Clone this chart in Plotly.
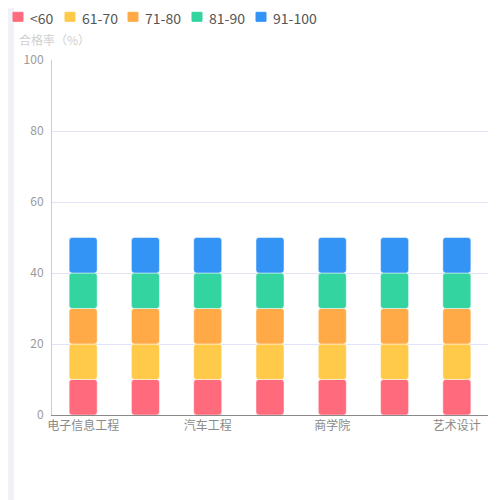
import plotly.graph_objects as go

# 学院 (only every other label is shown on the axis)
colleges = ["电子信息工程", "计算机科学", "汽车工程", "机械工程", "商学院", "外国语", "艺术设计"]
shown_labels = ["电子信息工程", "汽车工程", "商学院", "艺术设计"]

score_bands = ["<60", "61-70", "71-80", "81-90", "91-100"]
band_values = {
    "<60":    [10, 10, 10, 10, 10, 10, 10],
    "61-70":  [10, 10, 10, 10, 10, 10, 10],
    "71-80":  [10, 10, 10, 10, 10, 10, 10],
    "81-90":  [10, 10, 10, 10, 10, 10, 10],
    "91-100": [10, 10, 10, 10, 10, 10, 10],
}
band_colors = ["#ff6a7c", "#ffca4a", "#ffaa46", "#34d4a1", "#3494f6"]

FONT = "Noto Sans CJK SC, Noto Sans, sans-serif"

# plot area in pixels
L, T, PW, PH = 44, 52, 436, 355
W, H = 500, 500


def px(x):
    return (x - L) / PW


def py(y):
    return (T + PH - y) / PH


fig = go.Figure()
# stack by hand (base = sum of the bands below) so every segment gets its own rounded corners
running = [0] * len(colleges)
for band, color in zip(score_bands, band_colors):
    vals = band_values[band]
    fig.add_trace(go.Bar(
        name=band,
        x=colleges,
        y=vals,
        base=list(running),
        width=0.45,
        showlegend=False,
        marker=dict(color=color, cornerradius=3,
                    line=dict(width=0.6, color="rgba(255,255,255,0.8)")),
    ))
    running = [r + v for r, v in zip(running, vals)]

# legend drawn by hand to get the tight marker/text spacing
shapes = [
    dict(type="rect", xref="paper", yref="paper",
         x0=px(8), x1=px(W + 10), y0=py(H + 10), y1=py(-10),
         fillcolor="white", line=dict(width=0), layer="below"),
    dict(type="rect", xref="paper", yref="paper",
         x0=px(-10), x1=px(6), y0=py(H + 10), y1=py(-10),
         fillcolor="#f1f1f8", line=dict(width=0), layer="below"),
]
annotations = [dict(
    text="合格率（%）", xref="paper", yref="paper",
    x=px(9), y=py(31), xanchor="left", yanchor="middle",
    showarrow=False, font=dict(size=12, color="#cfcfcf"),
)]
legend_x = [5, 57, 120, 184, 248]
for band, color, lx in zip(score_bands, band_colors, legend_x):
    shapes.append(dict(
        type="rect", xref="paper", yref="paper",
        x0=px(lx), x1=px(lx + 10), y0=py(13.3), y1=py(4.3),
        fillcolor=color, line=dict(width=1, color=color),
    ))
    annotations.append(dict(
        text=band, xref="paper", yref="paper",
        x=px(lx + 16), y=py(9.6), xanchor="left", yanchor="middle",
        showarrow=False, font=dict(size=14, color="#555"), borderpad=0,
    ))

fig.update_layout(
    barmode="overlay",
    width=W,
    height=H,
    margin=dict(l=L, r=W - L - PW, t=T, b=H - T - PH, autoexpand=False),
    paper_bgcolor="white",
    plot_bgcolor="white",
    font=dict(family=FONT, size=12, color="#999"),
    showlegend=False,
    xaxis=dict(
        tickmode="array",
        tickvals=shown_labels,
        ticktext=shown_labels,
        showline=True,
        linecolor="#8a8a8a",
        linewidth=1,
        ticks="",
        showgrid=False,
        tickfont=dict(size=12, color="#8a8a8a"),
    ),
    yaxis=dict(
        range=[0, 100],
        dtick=20,
        showline=True,
        linecolor="#cccccc",
        gridcolor="#e3e3f7",
        zeroline=False,
        tickfont=dict(size=12, color="#9a9a9a"),
        ticks="",
        ticklabelstandoff=5,
    ),
    shapes=shapes,
    annotations=annotations,
)

fig.write_html("out.html")
